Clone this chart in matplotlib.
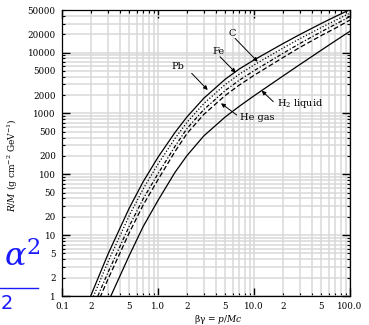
import matplotlib
matplotlib.use("Agg")
import matplotlib.pyplot as plt
from matplotlib.lines import Line2D

plt.rcParams['font.family'] = ['DejaVu Serif']
plt.rcParams['mathtext.fontset'] = 'dejavuserif'

# data
betagamma = [0.2, 0.3, 0.5, 0.7, 1.0, 1.5, 2, 3, 5, 7, 10, 20, 30, 50, 70, 100]
R_Pb = [1.02, 4.79, 27.5, 75.3, 190.5, 484, 873, 1774, 3631, 5346, 7551, 14000, 19770, 29920, 38900, 50800]
R_Fe = [0.785, 3.58, 20.7, 57.4, 147, 386, 711, 1452, 2972, 4385, 6252, 11800, 16870, 25700, 33570, 44570]
R_C = [0.545, 2.40, 13.9, 39.5, 102, 286, 562, 1156, 2366, 3500, 5023, 9680, 14060, 21880, 28970, 39080]
R_He = [0.432, 1.86, 10.8, 31.2, 81.5, 235, 466, 962, 1963, 2911, 4217, 8260, 12130, 18970, 25000, 34280]
R_H2 = [0.195, 0.776, 4.57, 13.8, 37.2, 107, 202, 427, 871, 1303, 1945, 4111, 6339, 10890, 15490, 22390]

x_major = [0.1, 1.0, 10.0, 100.0]
x_major_labels = ['0.1', '1.0', '10.0', '100.0']
x_minor = [m * d for d in [0.1, 1.0, 10.0] for m in range(2, 10)]
x_minor_labels = [('%d' % m) if m in (2, 5) else '' for d in [0.1, 1.0, 10.0] for m in range(2, 10)]
y_major = [1, 10, 100, 1000, 10000]
y_major_labels = ['1', '10', '100', '1000', '10000']
y_minor = [m * d for d in [1, 10, 100, 1000, 10000] for m in range(2, 10) if m * d <= 50000]
y_minor_labels = [('%d' % (m * d)) if m in (2, 5) else '' for d in [1, 10, 100, 1000, 10000] for m in range(2, 10) if m * d <= 50000]

fig = plt.figure(figsize=(3.69, 3.25), dpi=100)
ax = fig.add_axes([62/369, 29/325, 288/369, 286/325])
ax.set_xscale('log')
ax.set_yscale('log')
ax.set_xlim(0.1, 100)
ax.set_ylim(1, 50000)

ax.set_xticks(x_major)
ax.set_xticklabels(x_major_labels)
ax.set_xticks(x_minor, minor=True)
ax.set_xticklabels(x_minor_labels, minor=True)
ax.set_yticks(y_major)
ax.set_yticklabels(y_major_labels)
ax.set_yticks(y_minor, minor=True)
ax.set_yticklabels(y_minor_labels, minor=True)

ax.grid(True, which='both', color='#d9d9d9', lw=1.1, zorder=0)
ax.set_axisbelow(True)
ax.tick_params(which='both', direction='in', top=True, right=True, labelsize=6.3, colors='black')
ax.tick_params(which='major', length=6, width=1.0)
ax.tick_params(which='minor', length=2.3, width=0.8)
ax.tick_params(axis='x', which='both', pad=4.5)
ax.tick_params(axis='y', which='both', pad=4.5)
for s in ax.spines.values():
    s.set_linewidth(0.9)

lw = 0.9
ax.plot(betagamma, R_Pb, color='black', lw=lw, ls='-')
ax.plot(betagamma, R_Fe, color='black', lw=lw, ls=(0, (1, 1.5)))
ax.plot(betagamma, R_C, color='black', lw=lw, ls=(0, (3, 1.5, 1, 1.5)))
ax.plot(betagamma, R_He, color='black', lw=lw, ls=(0, (4, 2)))
ax.plot(betagamma, R_H2, color='black', lw=lw, ls='-')

ap = dict(arrowstyle='-|>', lw=0.7, color='black', mutation_scale=6, shrinkA=0, shrinkB=0)
fs = 7
ax.text(0.5892, 0.9185, 'C', transform=ax.transAxes, ha='center', va='center', fontsize=fs)
ax.annotate('', xy=(0.6795, 0.8192), xytext=(0.6007, 0.9010), xycoords='axes fraction', arrowprops=ap)
ax.text(0.5427, 0.8542, 'Fe', transform=ax.transAxes, ha='center', va='center', fontsize=fs)
ax.annotate('', xy=(0.6031, 0.7808), xytext=(0.5486, 0.8367), xycoords='axes fraction', arrowprops=ap)
ax.text(0.4028, 0.8007, 'Pb', transform=ax.transAxes, ha='center', va='center', fontsize=fs)
ax.annotate('', xy=(0.5059, 0.7203), xytext=(0.4503, 0.7787), xycoords='axes fraction', arrowprops=ap)
ax.text(0.677, 0.6224, 'He gas', transform=ax.transAxes, ha='center', va='center', fontsize=fs)
ax.annotate('', xy=(0.5521, 0.6738), xytext=(0.6066, 0.6329), xycoords='axes fraction', arrowprops=ap)
ax.text(0.8264, 0.6748, r'H$_2$ liquid', transform=ax.transAxes, ha='center', va='center', fontsize=fs)
ax.annotate('', xy=(0.6934, 0.7178), xytext=(0.7337, 0.6794), xycoords='axes fraction', arrowprops=ap)

fig.text(13/369, 1 - 165/325, r'$R/M$ (g cm$^{-2}$ GeV$^{-1}$)', rotation=90, ha='center', va='center', fontsize=6.5)
fig.text(218/369, 1 - 319/325, r'$\mathrm{\beta\gamma}$ = $p/Mc$', ha='center', va='center', fontsize=6.5)

# blue fragment at left edge
fig.text(4/369, 1 - 266/325, r'$\alpha^2$', color='#1a1aff', fontsize=23, ha='left', va='baseline')
fig.add_artist(Line2D([0, 38/369], [1 - 288/325, 1 - 288/325], color='#1a1aff', lw=1.0, transform=fig.transFigure))
fig.text(1/369, 1 - 309/325, '2', color='#1a1aff', fontsize=14, ha='left', va='baseline', family='DejaVu Sans')

fig.savefig('out.png', dpi=100)
